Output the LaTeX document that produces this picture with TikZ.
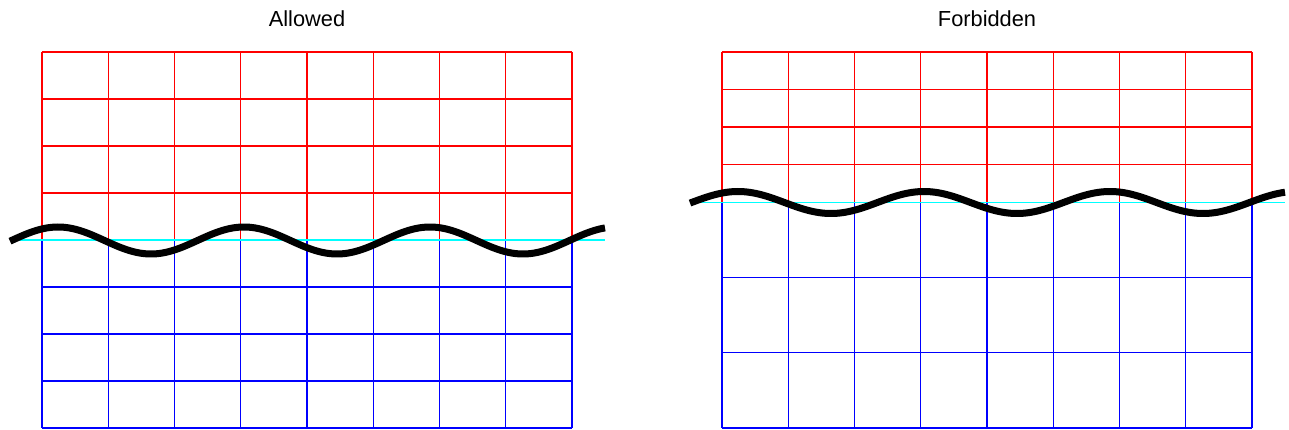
\documentclass[tikz,border=0pt]{standalone}
\usepackage{fontspec}
\setmainfont{Liberation Sans}
\definecolor{gridred}{RGB}{255,0,0}
\definecolor{gridblue}{RGB}{0,0,255}
\definecolor{linecyan}{RGB}{0,255,255}
\begin{document}
\begin{tikzpicture}[x=1pt,y=-1pt,
  redgrid/.style={draw=gridred,line width=1.3pt},
  bluegrid/.style={draw=gridblue,line width=1.3pt},
  cyanline/.style={draw=linecyan,line width=1.6pt},
  wave/.style={draw=black,line width=7pt},
  title/.style={font=\fontsize{21.8}{26}\selectfont,anchor=base,inner sep=0pt}]
\useasboundingbox (0,0) rectangle (1289,430);
% Left panel
\foreach \i in {0,...,8}{
  \draw[redgrid] ({42+\i*66.25},52) -- ({42+\i*66.25},240);
  \draw[bluegrid] ({42+\i*66.25},240) -- ({42+\i*66.25},428);
}
\foreach \j in {0,...,3}{
  \draw[redgrid] (42,{52+\j*47}) -- (572,{52+\j*47});
}
\foreach \j in {1,...,4}{
  \draw[bluegrid] (42,{240+\j*47}) -- (572,{240+\j*47});
}
\coordinate (lc0) at (10,240);
\coordinate (lc1) at (605,240);
\draw[cyanline] (lc0) -- (lc1);
\draw[wave] plot[domain=10:605,samples=200,smooth] (\x,{240.5-13.5*sin(1.935484*(\x-11.5))});
\node[title] (allowed) at (307,26.7) {Allowed};
% Right panel
\foreach \i in {0,...,8}{
  \draw[redgrid] ({722+\i*66.25},52) -- ({722+\i*66.25},202);
  \draw[bluegrid] ({722+\i*66.25},202) -- ({722+\i*66.25},428);
}
\foreach \j in {0,...,3}{
  \draw[redgrid] (722,{52+\j*37.5}) -- (1252,{52+\j*37.5});
}
\foreach \j in {1,...,3}{
  \draw[bluegrid] (722,{202+\j*75.33}) -- (1252,{202+\j*75.33});
}
\coordinate (rc0) at (690,202.5);
\coordinate (rc1) at (1285,202.5);
\draw[cyanline] (rc0) -- (rc1);
\draw[wave] plot[domain=690:1285,samples=200,smooth] (\x,{202.5-11*sin(1.935484*(\x-691.5))});
\node[title] (forbidden) at (987,26.7) {Forbidden};
\end{tikzpicture}
\end{document}
